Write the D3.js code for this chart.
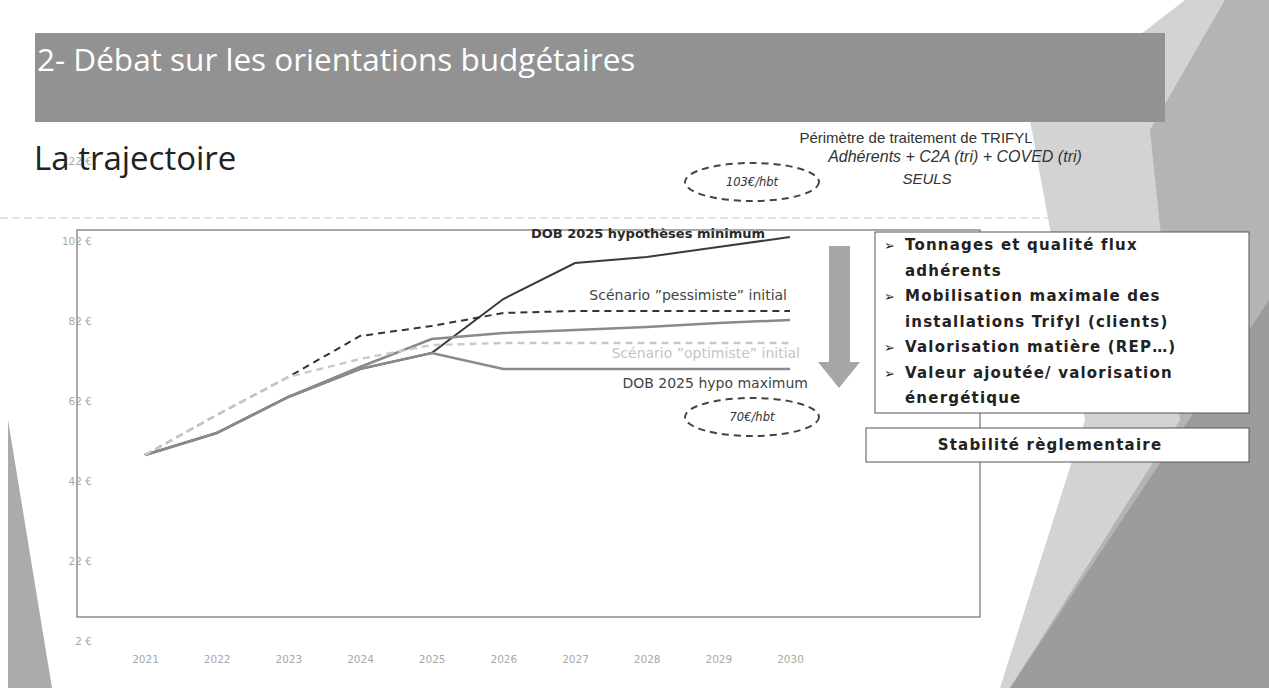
<!DOCTYPE html>
<html>
<head>
<meta charset="utf-8">
<script src="https://cdn.jsdelivr.net/npm/d3@7"></script>
<style>
  body { margin: 0; background: #fff; }
  svg { display: block; }
  .axis text { font-family: "DejaVu Sans", sans-serif; font-size: 10.5px; fill: #a8a8a8; }
  .serie-label { font-family: "DejaVu Sans", sans-serif; font-size: 14px; }
  .box-text { font-family: "DejaVu Sans", sans-serif; font-weight: bold; font-size: 15px; letter-spacing: 1.2px; fill: #222; }
</style>
</head>
<body>
<svg width="1269" height="688"></svg>
<script>
// values (euros per inhabitant)
var years = [2021, 2022, 2023, 2024, 2025, 2026, 2027, 2028, 2029, 2030];
var hypoMinimum = [48.5, 54, 63, 70, 74, 87.5, 96.5, 98, 100.5, 103];
var hypoCentral = [48.5, 54, 63, 70.5, 77.5, 79, 79.75, 80.5, 81.5, 82.25];
var hypoMaximum = [48.5, 54, 63, 70, 74, 70, 70, 70, 70, 70];
var scenPessimiste = [48.5, 58.5, 68, 78.25, 80.75, 84, 84.5, 84.5, 84.5, 84.5];
var scenOptimiste = [48.5, 58.5, 68, 72.5, 76, 76.5, 76.5, 76.5, 76.5, 76.5];
var yTicks = [2, 22, 42, 62, 82, 102, 122];
var bullets = ["Tonnages et qualité flux", "adhérents", "Mobilisation maximale des",
  "installations Trifyl (clients)", "Valorisation matière (REP…)", "Valeur ajoutée/ valorisation", "énergétique"];
var bulletStart = [true, false, true, false, true, true, false];

var svg = d3.select("svg");

// ---- slide background (grey facets) ----
var bg = svg.append("g");
bg.append("polygon").attr("points", "1185,0 1269,0 1269,688 1000,688 1085,420 1030,120").attr("fill", "#d3d3d3");
bg.append("polygon").attr("points", "1225,0 1269,0 1269,688 1010,688 1180,420 1150,130").attr("fill", "#b4b4b4");
bg.append("polygon").attr("points", "1269,300 1269,688 1010,688").attr("fill", "#9c9c9c");
bg.append("polygon").attr("points", "8,420 52,688 8,688").attr("fill", "#ababab");

// header band
svg.append("rect").attr("x", 35).attr("y", 33).attr("width", 1130).attr("height", 89).attr("fill", "#929292");
svg.append("text").attr("x", 37).attr("y", 71).text("2- Débat sur les orientations budgétaires")
  .style("font-family", "'Open Sans', sans-serif").style("font-size", "31.5px").attr("fill", "#fff");

// scanned fold line
svg.append("line").attr("x1", 0).attr("x2", 1060).attr("y1", 218).attr("y2", 218)
  .attr("stroke", "#c8c8c8").attr("stroke-dasharray", "8,4");

// ---- chart ----
var x = d3.scaleLinear().domain([2021, 2030]).range([145, 790]),
  y = d3.scaleLinear().domain([2, 122]).range([641, 161]);

// chart frame
svg.append("rect").attr("x", 77).attr("y", 230).attr("width", 903).attr("height", 387)
  .attr("fill", "none").attr("stroke", "#555").attr("stroke-width", 1);

svg.append("g")
  .attr("class", "axis axis--y")
  .attr("transform", "translate(92,0)")
  .call(d3.axisLeft(y).tickValues(yTicks).tickSize(0).tickPadding(0).tickFormat(d => d + " €"))
  .call(g => g.select(".domain").remove());

svg.append("g")
  .attr("class", "axis axis--x")
  .attr("transform", "translate(0,656)")
  .call(d3.axisBottom(x).tickValues(years).tickSize(0).tickPadding(0).tickFormat(d3.format("d")))
  .call(g => g.select(".domain").remove());

svg.append("text").attr("x", 34).attr("y", 170).text("La trajectoire")
  .style("font-family", "'Open Sans', sans-serif").style("font-size", "33px").attr("fill", "#222");

var series = [
  {id: "min", values: hypoMinimum, stroke: "#3a3a3a", width: 2, dash: null},
  {id: "central", values: hypoCentral, stroke: "#8a8a8a", width: 2.5, dash: null},
  {id: "max", values: hypoMaximum, stroke: "#8a8a8a", width: 2.5, dash: null},
  {id: "pessimiste", values: scenPessimiste, stroke: "#333", width: 2, dash: "7,5"},
  {id: "optimiste", values: scenOptimiste, stroke: "#c9c9c9", width: 2.4, dash: "7,5"}
];

var line = d3.line()
  .x((d, i) => x(years[i]))
  .y(d => y(d));

svg.selectAll(".serie")
  .data(series)
  .enter().append("path")
    .attr("class", "serie")
    .attr("fill", "none")
    .attr("stroke", d => d.stroke)
    .attr("stroke-width", d => d.width)
    .attr("stroke-dasharray", d => d.dash)
    .attr("d", d => line(d.values));

// series labels, anchored to the 2030 point
var labels = [
  {text: "DOB 2025 hypothèses minimum", values: hypoMinimum, dx: -25, dy: 1, fill: "#2a2a2a", weight: "bold", size: 13},
  {text: "Scénario \u201dpessimiste\u201d initial", values: scenPessimiste, dx: -3, dy: -11, fill: "#444", weight: "normal", size: 14},
  {text: "Scénario \u201doptimiste\u201d initial", values: scenOptimiste, dx: 10, dy: 15, fill: "#c4c4c4", weight: "normal", size: 14},
  {text: "DOB 2025 hypo maximum", values: hypoMaximum, dx: 18, dy: 19, fill: "#444", weight: "normal", size: 14}
];
svg.selectAll(".serie-label")
  .data(labels)
  .enter().append("text")
    .attr("class", "serie-label")
    .attr("text-anchor", "end")
    .attr("x", d => x(2030) + d.dx)
    .attr("y", d => y(d.values[9]) + d.dy)
    .attr("fill", d => d.fill)
    .style("font-weight", d => d.weight)
    .style("font-size", d => d.size + "px")
    .text(d => d.text);

// dashed ellipses with end values
[{v: hypoMinimum[9], cy: 182, t: "103€/hbt"}, {v: hypoMaximum[9], cy: 417, t: "70€/hbt"}].forEach(function(e) {
  svg.append("ellipse").attr("cx", 752).attr("cy", e.cy).attr("rx", 67).attr("ry", 19)
    .attr("fill", "none").attr("stroke", "#444").attr("stroke-width", 2).attr("stroke-dasharray", "7,5");
  svg.append("text").attr("x", 752).attr("y", e.cy + 4).attr("text-anchor", "middle")
    .style("font-family", "'DejaVu Sans', sans-serif").style("font-size", "11.5px").style("font-style", "italic")
    .attr("fill", "#333").text(e.t);
});

// grey down arrow
svg.append("polygon").attr("points", "829,246 850,246 850,362 860,362 839,388 818,362 829,362").attr("fill", "#a6a6a6");

// perimeter caption
var cap = svg.append("g").style("font-family", "'Liberation Sans Narrow', 'Liberation Sans', sans-serif").attr("fill", "#333");
cap.append("text").attr("x", 916).attr("y", 143).attr("text-anchor", "middle").style("font-size", "15px").text("Périmètre de traitement de TRIFYL");
cap.append("text").attr("x", 955).attr("y", 162).attr("text-anchor", "middle").style("font-size", "16px").style("font-style", "italic").text("Adhérents + C2A (tri) + COVED (tri)");
cap.append("text").attr("x", 927).attr("y", 184).attr("text-anchor", "middle").style("font-size", "15px").style("font-style", "italic").text("SEULS");

// drivers box
svg.append("rect").attr("x", 875).attr("y", 232).attr("width", 374).attr("height", 181)
  .attr("fill", "#fff").attr("stroke", "#555");
svg.selectAll(".box-text")
  .data(bullets)
  .enter().append("text")
    .attr("class", "box-text")
    .attr("x", 905)
    .attr("y", (d, i) => 250 + i * 25.5)
    .text(d => d);
svg.selectAll(".bullet")
  .data(bulletStart.map((b, i) => b ? i : -1).filter(i => i >= 0))
  .enter().append("text")
    .attr("class", "bullet")
    .attr("x", 884)
    .attr("y", i => 250 + i * 25.5)
    .style("font-family", "'DejaVu Sans', sans-serif").style("font-size", "13px").attr("fill", "#222")
    .text("➢");

svg.append("rect").attr("x", 866).attr("y", 428).attr("width", 383).attr("height", 34)
  .attr("fill", "#fff").attr("stroke", "#555");
svg.append("text").attr("class", "box-text").attr("x", 1050).attr("y", 450).attr("text-anchor", "middle")
  .text("Stabilité règlementaire");
</script>
</body>
</html>
